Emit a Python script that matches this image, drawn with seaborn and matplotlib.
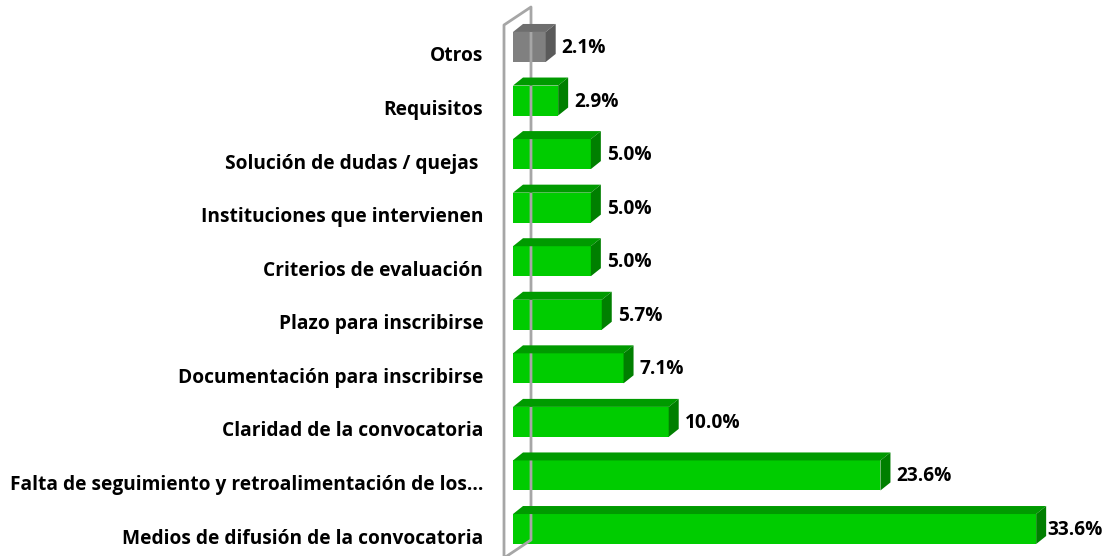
import matplotlib
matplotlib.use("Agg")
import matplotlib.pyplot as plt
from matplotlib.patches import Polygon
from matplotlib.lines import Line2D
from matplotlib.transforms import ScaledTranslation
import seaborn as sns
import pandas as pd

categories = [
    "Otros",
    "Requisitos",
    "Solución de dudas / quejas ",
    "Instituciones que intervienen",
    "Criterios de evaluación",
    "Plazo para inscribirse",
    "Documentación para inscribirse",
    "Claridad de la convocatoria",
    "Falta de seguimiento y retroalimentación de los…",
    "Medios de difusión de la convocatoria",
]
values = [2.1, 2.9, 5.0, 5.0, 5.0, 5.7, 7.1, 10.0, 23.6, 33.6]
value_labels = ["2.1%", "2.9%", "5.0%", "5.0%", "5.0%", "5.7%", "7.1%", "10.0%", "23.6%", "33.6%"]

front_colors = ["#808080"] + ["#00CC00"] * 9
top_colors = ["#6E6E6E"] + ["#009A00"] * 9
side_colors = ["#5A5A5A"] + ["#007F00"] * 9

sns.set_theme(style="white")
plt.rcParams["font.family"] = ["Open Sans", "DejaVu Sans"]
FS = 13.8

W, H, DPI = 1113, 556, 100
fig = plt.figure(figsize=(W / DPI, H / DPI), dpi=DPI)
x0_px = 513
right_px = 1089
ax = fig.add_axes([x0_px / W, 0, (right_px - x0_px) / W, 1])

df = pd.DataFrame({"cat": categories, "val": values})
sns.barplot(data=df, x="val", y="cat", order=categories, orient="h",
            palette=front_colors, hue="cat", legend=False, width=0.56,
            saturation=1, ax=ax, zorder=3, edgecolor="none")

ax.set_xlim(0, (right_px - x0_px) / 15.57)
step = 53.6
ax.set_ylim(9 + 27 / step, -47 / step)
for s in ax.spines.values():
    s.set_visible(False)
ax.set_xticks([])
ax.set_xlabel("")
ax.set_ylabel("")
ax.tick_params(axis="y", length=0, pad=21.5)
shift = ScaledTranslation(0, -7 / DPI, fig.dpi_scale_trans)
for t in ax.get_yticklabels():
    t.set_fontweight("bold")
    t.set_fontsize(FS)
    t.set_color("black")
    t.set_transform(t.get_transform() + shift)

fig.canvas.draw()
dx, dy = 10, 8

# wall lines (display coordinates)
ax0 = ax.transData.transform((0, 0))[0]
wall_col = "#A6A6A6"
front_x = ax0 - 9
back_x = ax0 + 18
fig.add_artist(Line2D([front_x, front_x, back_x, back_x, front_x],
                      [-2, H - 25, H - 7, 16, -2],
                      transform=None, color=wall_col, lw=2, zorder=1,
                      solid_joinstyle="round"))

bars = sorted(ax.patches, key=lambda p: p.get_y())
for i, p in enumerate(bars):
    x_a, y_a = p.get_x(), p.get_y()
    w, h = p.get_width(), p.get_height()
    (px0, py_a), (px1, py_b) = ax.transData.transform([(x_a, y_a), (x_a + w, y_a + h)])
    ytop = max(py_a, py_b)
    ybot = min(py_a, py_b)
    top = Polygon([(px0, ytop), (px1, ytop), (px1 + dx, ytop + dy), (px0 + dx, ytop + dy)],
                  closed=True, transform=None, facecolor=top_colors[i], edgecolor="none", zorder=4)
    side = Polygon([(px1, ybot), (px1 + dx, ybot + dy), (px1 + dx, ytop + dy), (px1, ytop)],
                   closed=True, transform=None, facecolor=side_colors[i], edgecolor="none", zorder=4)
    fig.add_artist(top)
    fig.add_artist(side)
    off = 16 if i < len(bars) - 1 else 11
    fig.text((px1 + off) / W, ((ytop + ybot) / 2 - 1) / H, value_labels[i],
             ha="left", va="center", fontsize=FS, fontweight="bold", color="black")

fig.savefig("out.png", dpi=DPI)
